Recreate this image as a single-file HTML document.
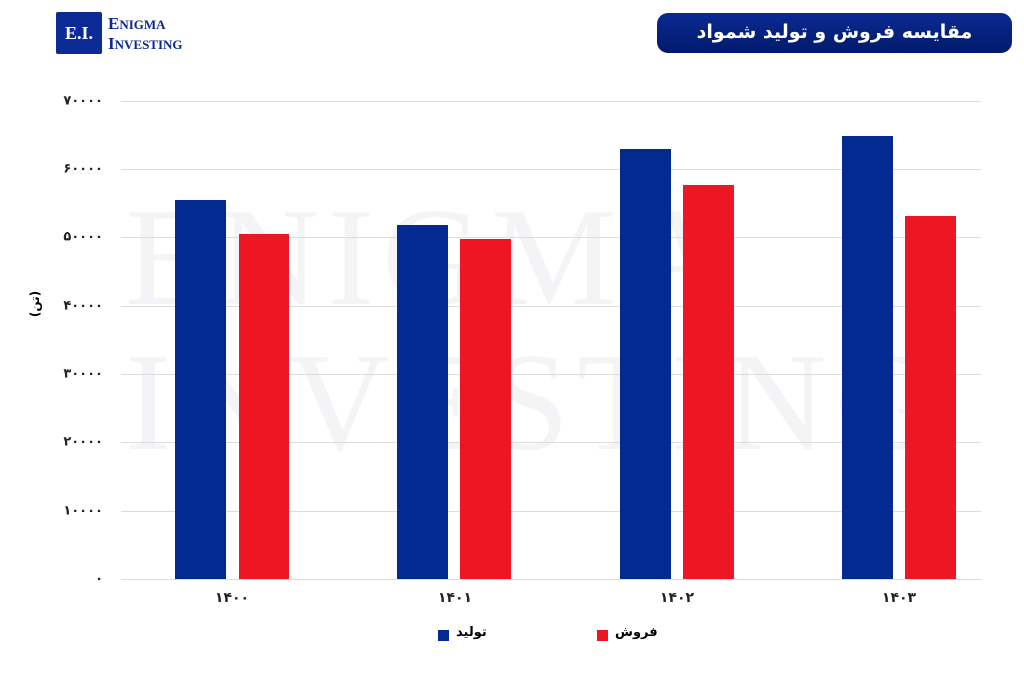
<!DOCTYPE html>
<html><head><meta charset="utf-8"><style>
body{margin:0;width:1024px;height:673px;background:#fff;position:relative;overflow:hidden;font-family:"DejaVu Sans",sans-serif}
.a{position:absolute}
.g{position:absolute;left:121px;width:860px;height:1px;background:#dcdcdc}
.yl{position:absolute;right:921px;font-size:13px;color:#222;font-weight:bold;transform:translateY(-50%)}
.xl{position:absolute;font-size:14px;font-weight:bold;color:#222;transform:translateX(-50%);top:590px}
.b{position:absolute;background:#022a90}.r{position:absolute;background:#ed1623}
</style></head><body>
<div class="a" style="left:56px;top:12px;width:46px;height:42px;background:#0b2a93;border-radius:2px;color:#fff;font-family:'Liberation Serif',serif;font-size:18px;font-weight:bold;line-height:42px;text-align:center">E.I.</div>
<div class="a" style="left:108px;top:14px;color:#0b2a93;font-family:'Liberation Serif',serif;font-weight:bold;font-size:17px;line-height:19px">E<span style="font-size:13px">NIGMA</span><br>I<span style="font-size:13px">NVESTING</span></div>
<div class="a" style="left:657px;top:13px;width:355px;height:40px;border-radius:11px;background:linear-gradient(#0b2a93,#011a6b);color:#fff;font-size:19px;font-weight:bold;line-height:38px;text-align:center;direction:rtl">مقایسه فروش و تولید شمواد</div>
<div class="a" style="left:125px;top:185px;width:860px;overflow:hidden;font-family:'Liberation Serif',serif;font-size:140px;color:#f4f4f7;letter-spacing:8px;line-height:145px;white-space:nowrap">ENIGMA<br>INVESTING</div>
<div class="g" style="top:101px"></div><div class="g" style="top:169px"></div><div class="g" style="top:237px"></div><div class="g" style="top:306px"></div><div class="g" style="top:374px"></div><div class="g" style="top:442px"></div><div class="g" style="top:511px"></div><div class="g" style="top:579px"></div>
<div class="yl" style="top:101px">۷۰۰۰۰</div><div class="yl" style="top:169px">۶۰۰۰۰</div><div class="yl" style="top:237px">۵۰۰۰۰</div><div class="yl" style="top:306px">۴۰۰۰۰</div><div class="yl" style="top:374px">۳۰۰۰۰</div><div class="yl" style="top:442px">۲۰۰۰۰</div><div class="yl" style="top:511px">۱۰۰۰۰</div><div class="yl" style="top:579px">۰</div>
<div class="a" style="left:22px;top:297px;font-size:12px;font-weight:bold;transform:rotate(-90deg)">(تن)</div>
<div class="b" style="left:175px;top:200px;width:51px;height:379px"></div><div class="r" style="left:239px;top:234px;width:50px;height:345px"></div>
<div class="b" style="left:397px;top:225px;width:51px;height:354px"></div><div class="r" style="left:460px;top:239px;width:51px;height:340px"></div>
<div class="b" style="left:620px;top:149px;width:51px;height:430px"></div><div class="r" style="left:683px;top:185px;width:51px;height:394px"></div>
<div class="b" style="left:842px;top:136px;width:51px;height:443px"></div><div class="r" style="left:905px;top:216px;width:51px;height:363px"></div>
<div class="xl" style="left:232px">۱۴۰۰</div><div class="xl" style="left:455px">۱۴۰۱</div><div class="xl" style="left:677px">۱۴۰۲</div><div class="xl" style="left:899px">۱۴۰۳</div>
<div class="b" style="left:438px;top:630px;width:11px;height:11px"></div><div class="a" style="left:456px;top:625px;font-size:13px;font-weight:bold">تولید</div>
<div class="r" style="left:597px;top:630px;width:11px;height:11px"></div><div class="a" style="left:615px;top:625px;font-size:13px;font-weight:bold">فروش</div>
</body></html>
